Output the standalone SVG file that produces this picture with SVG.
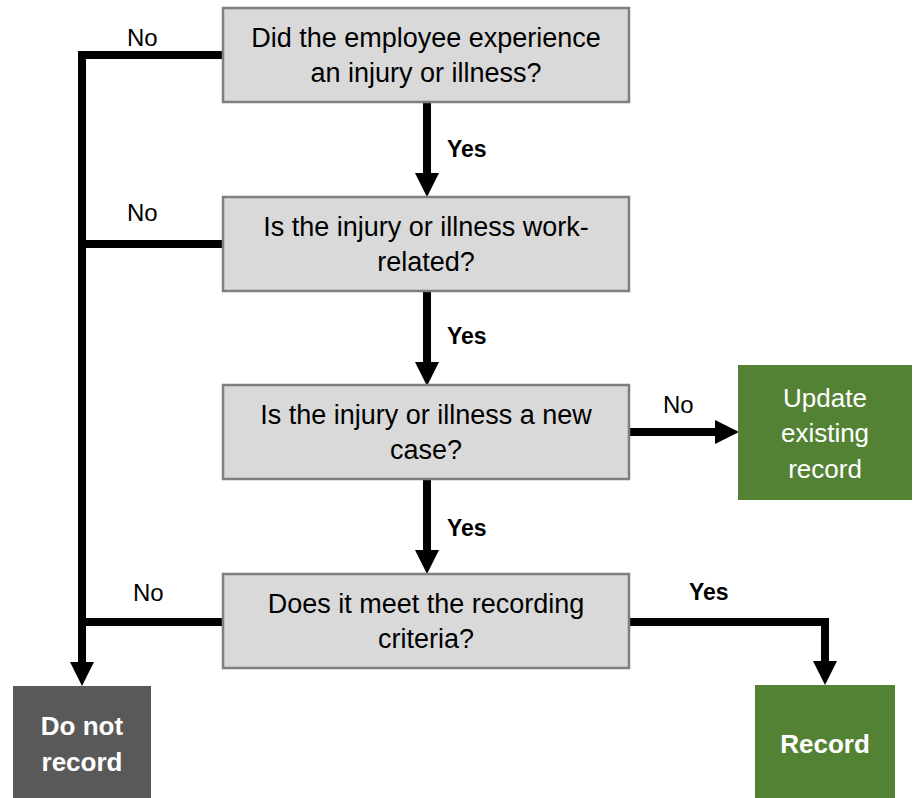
<svg xmlns="http://www.w3.org/2000/svg" width="916" height="798" viewBox="0 0 916 798">
<style>
.q rect{fill:#d9d9d9;stroke:#7f7f7f;stroke-width:2.5}
.t{font-family:"Liberation Sans",Arial,sans-serif;font-size:27px;fill:#000;text-anchor:middle}
.w{font-family:"Liberation Sans",Arial,sans-serif;font-size:26px;fill:#fff;text-anchor:middle}
.b{font-weight:bold}
.l{font-family:"Liberation Sans",Arial,sans-serif;font-size:24px;fill:#000}
.lb{font-family:"Liberation Sans",Arial,sans-serif;font-size:23px;fill:#000;font-weight:bold}
.ln{fill:none;stroke:#000;stroke-width:8}
.ah{fill:#000}
</style>
<rect width="916" height="798" fill="#fff"/>
<g id="connectors">
  <path class="ln" d="M223,55 H82 V664"/>
  <path class="ln" d="M223,244 H82"/>
  <path class="ln" d="M223,622 H82"/>
  <polygon class="ah" points="70,662 94,662 82,686"/>
  <path class="ln" d="M427,102 V174"/>
  <polygon class="ah" points="415,173 439,173 427,197"/>
  <path class="ln" d="M427,291 V363"/>
  <polygon class="ah" points="415,362 439,362 427,386"/>
  <path class="ln" d="M427,479 V551"/>
  <polygon class="ah" points="415,550 439,550 427,574"/>
  <path class="ln" d="M629,432 H716"/>
  <polygon class="ah" points="715,420 715,444 739,432"/>
  <path class="ln" d="M629,622 H825 V662"/>
  <polygon class="ah" points="813,661 837,661 825,685"/>
  <text class="l" x="127" y="46">No</text>
  <text class="l" x="127" y="221">No</text>
  <text class="l" x="133" y="601">No</text>
  <text class="l" x="663" y="413">No</text>
  <text class="lb" x="447" y="157">Yes</text>
  <text class="lb" x="447" y="344">Yes</text>
  <text class="lb" x="447" y="536">Yes</text>
  <text class="lb" x="689" y="600">Yes</text>
</g>
<g id="q1" class="q">
  <rect x="223" y="8" width="406" height="94"/>
  <text class="t" x="426" y="47">Did the employee experience</text>
  <text class="t" x="426" y="82">an injury or illness?</text>
</g>
<g id="q2" class="q">
  <rect x="223" y="197" width="406" height="94"/>
  <text class="t" x="426" y="236">Is the injury or illness work-</text>
  <text class="t" x="426" y="271">related?</text>
</g>
<g id="q3" class="q">
  <rect x="223" y="385" width="406" height="94"/>
  <text class="t" x="426" y="424">Is the injury or illness a new</text>
  <text class="t" x="426" y="459">case?</text>
</g>
<g id="q4" class="q">
  <rect x="223" y="574" width="406" height="94"/>
  <text class="t" x="426" y="613">Does it meet the recording</text>
  <text class="t" x="426" y="648">criteria?</text>
</g>
<g id="update">
  <rect x="738" y="365" width="174" height="135" fill="#548235"/>
  <text class="w" x="825" y="407">Update</text>
  <text class="w" x="825" y="442">existing</text>
  <text class="w" x="825" y="478">record</text>
</g>
<g id="donot">
  <rect x="13" y="686" width="138" height="112" fill="#595959"/>
  <text class="w b" x="82" y="735">Do not</text>
  <text class="w b" x="82" y="771">record</text>
</g>
<g id="record">
  <rect x="755" y="685" width="140" height="113" fill="#548235"/>
  <text class="w b" x="825" y="753">Record</text>
</g>
</svg>
